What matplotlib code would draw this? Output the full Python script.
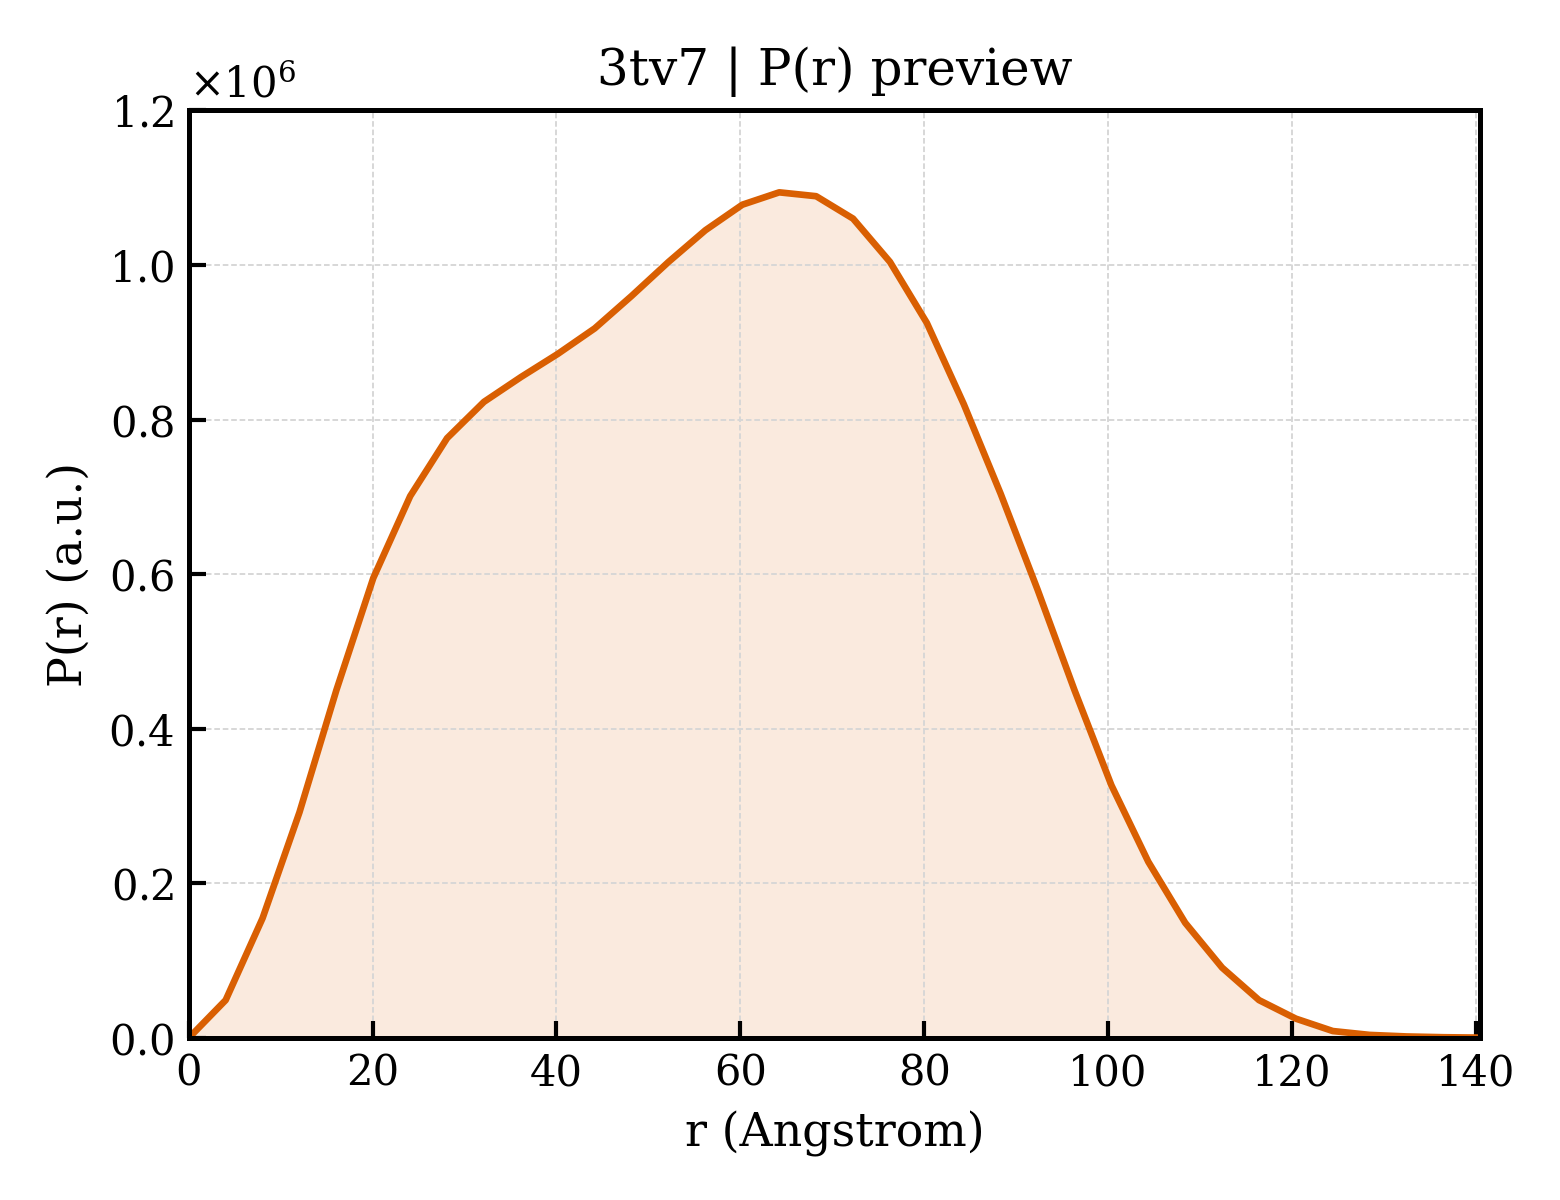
"""P(r) preview of 3tv7: pair distance distribution with shaded area."""

import matplotlib

matplotlib.use("Agg")
import matplotlib.pyplot as plt
import numpy as np

plt.rcParams["font.family"] = "DejaVu Serif"
plt.rcParams["mathtext.fontset"] = "dejavuserif"

D_MAX = 140.5
pr_scaled = [
    0.0, 0.049, 0.155, 0.292, 0.450, 0.595, 0.701, 0.776, 0.823, 0.855,
    0.885, 0.918, 0.960, 1.004, 1.045, 1.078, 1.094, 1.089, 1.060, 1.004,
    0.925, 0.820, 0.704, 0.580, 0.450, 0.327, 0.228, 0.149, 0.091, 0.049,
    0.025, 0.009, 0.004, 0.002, 0.001, 0.0005,
]
r = np.linspace(0.0, D_MAX, len(pr_scaled))
pr = np.array(pr_scaled) * 1e6

colour = "#d95f02"

fig = plt.figure(figsize=(5.2, 4.0), dpi=300)
ax = fig.add_axes([0.121, 0.135, 0.828, 0.773])

ax.fill_between(r, pr, 0, color=colour, alpha=0.13, linewidth=0)
ax.plot(r, pr, color=colour, linewidth=1.6)

ax.set_xlim(0, D_MAX)
ax.set_ylim(0, 1.2e6)
ax.set_xticks(np.arange(0, 141, 20))
ax.ticklabel_format(axis="y", style="sci", scilimits=(6, 6), useMathText=True)
ax.tick_params(direction="in", labelsize=10, width=1.0, length=4)
for spine in ax.spines.values():
    spine.set_linewidth(1.2)
ax.grid(True, linestyle=(0, (3, 1.5)), linewidth=0.45, color="#d6d6d6")

ax.set_xlabel("r (Angstrom)", fontsize=11)
ax.set_ylabel("P(r) (a.u.)", fontsize=11)
ax.set_title("3tv7 | P(r) preview", fontsize=12)

fig.savefig("out.png", dpi=300)
plt.close(fig)
